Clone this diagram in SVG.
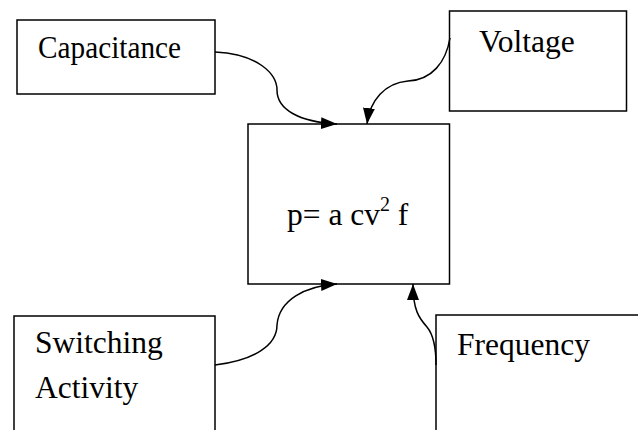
<svg xmlns="http://www.w3.org/2000/svg" width="638" height="430" viewBox="0 0 638 430">
<style>
.box{fill:#fff;stroke:#000;stroke-width:1.5}
.lbl{font-family:'Liberation Serif','Times New Roman','DejaVu Serif',serif;font-size:31.5px;fill:#000}
.con{fill:none;stroke:#000;stroke-width:1.5}
</style>
<defs>
<marker id="ah" markerUnits="userSpaceOnUse" markerWidth="18" markerHeight="14" refX="16" refY="6" orient="auto">
<path d="M0,0 L16,6 L0,12 Z" fill="#000"/>
</marker>
</defs>
<rect width="638" height="430" fill="#fff"/>
<g id="capacitance">
<rect class="box" x="17" y="20" width="198" height="74"/>
<text class="lbl" x="38" y="58" textLength="143" lengthAdjust="spacingAndGlyphs">Capacitance</text>
</g>
<g id="voltage">
<rect class="box" x="449.5" y="11" width="177" height="100"/>
<text class="lbl" x="479" y="52">Voltage</text>
</g>
<g id="power">
<rect class="box" x="248" y="124" width="201.5" height="160"/>
<text class="lbl" x="287" y="225" font-size="32.5">p= a cv<tspan font-size="20" dy="-14">2</tspan><tspan dy="14"> f</tspan></text>
</g>
<g id="switching">
<rect class="box" x="14" y="316" width="201" height="130"/>
<text class="lbl" x="35" y="353">Switching</text>
<text class="lbl" x="35" y="398">Activity</text>
</g>
<g id="frequency">
<rect class="box" x="436" y="315" width="220" height="130"/>
<text class="lbl" x="457" y="355">Frequency</text>
</g>
<g id="connectors">
<path class="con" marker-end="url(#ah)" d="M215,52 C258,54 277,74 277,90 C277,110 300,122 337,124"/>
<path class="con" marker-end="url(#ah)" d="M450,38 C446,62 432,80 408,81 C385,83 370,100 367,124"/>
<path class="con" marker-end="url(#ah)" d="M215,365 C255,360 277,345 277,325 C279,300 305,286 337,284"/>
<path class="con" marker-end="url(#ah)" d="M436,365 C436,342 432,333 427,327 C419,318 413,310 413,284"/>
</g>
</svg>
